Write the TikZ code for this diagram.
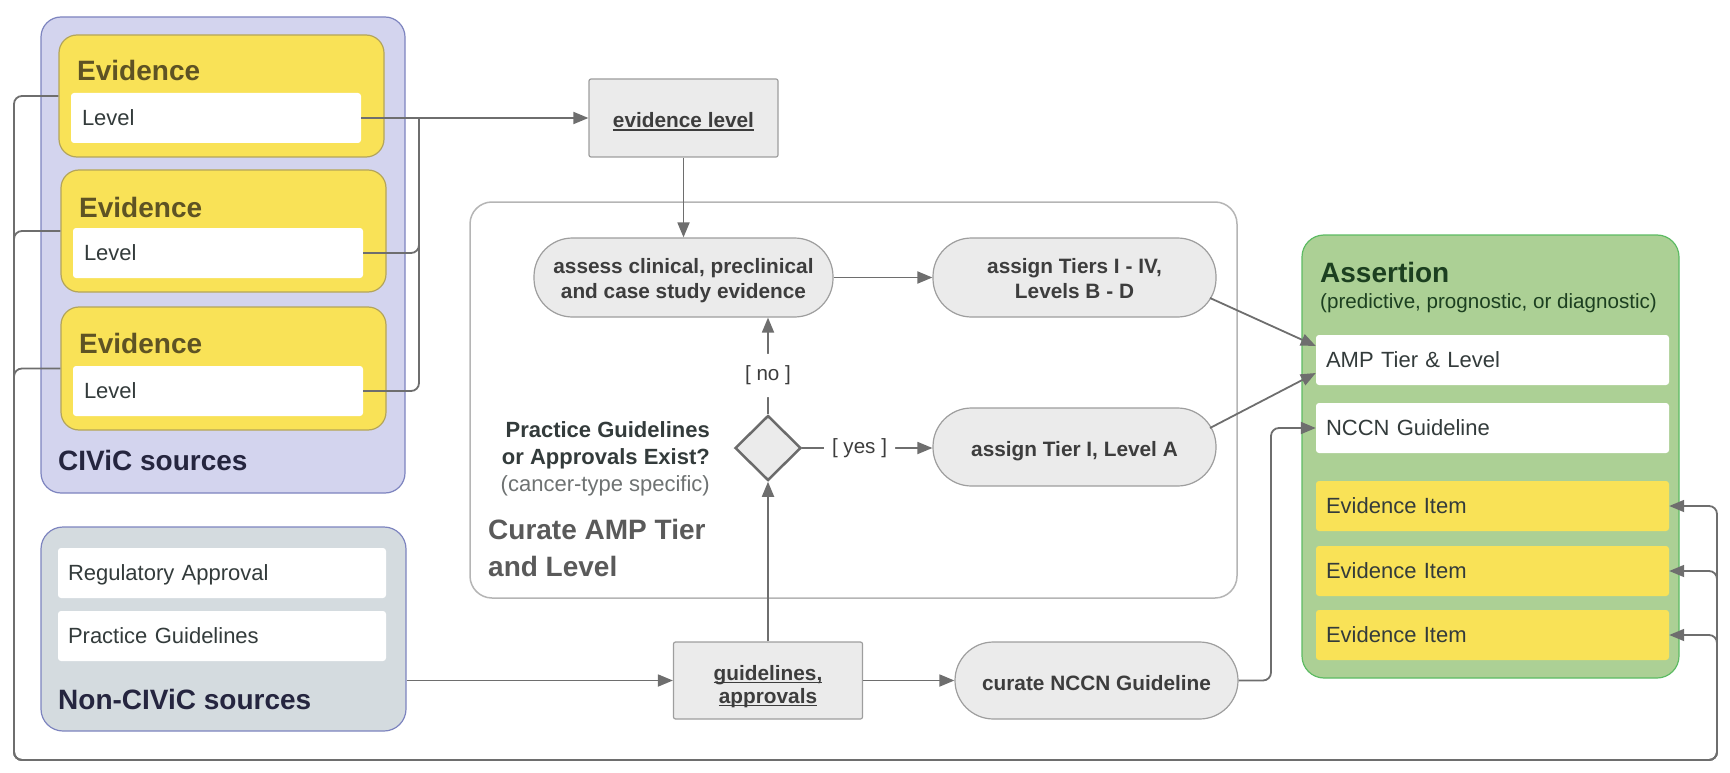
\documentclass[tikz,border=0pt]{standalone}
\usepackage{fontspec}
\setmainfont{Liberation Sans}
\usetikzlibrary{arrows.meta,shapes.geometric,calc}
\definecolor{lineC}{HTML}{6E6E6E}
\definecolor{civF}{HTML}{D3D4EE}
\definecolor{civB}{HTML}{7D84BF}
\definecolor{evF}{HTML}{F9E257}
\definecolor{evB}{HTML}{B4A55A}
\definecolor{evT}{HTML}{5E5324}
\definecolor{navyT}{HTML}{25253F}
\definecolor{nonF}{HTML}{D4DBDF}
\definecolor{procF}{HTML}{EBEBEB}
\definecolor{procB}{HTML}{9E9E9E}
\definecolor{grpB}{HTML}{B5B5B5}
\definecolor{grnF}{HTML}{ACD095}
\definecolor{grnB}{HTML}{5DBB63}
\definecolor{grnT}{HTML}{1C3F20}
\definecolor{itemT}{HTML}{333B3B}
\definecolor{procT}{HTML}{3D3D3D}
\definecolor{curT}{HTML}{5A5A5A}
\definecolor{subT}{HTML}{6E7272}
\definecolor{diaB}{HTML}{6B6B6B}
\newcommand\fHead{\fontsize{28}{32}\selectfont\bfseries}
\newcommand\fItem{\fontsize{22}{26}\selectfont}
\newcommand\fProc{\fontsize{20.8}{25}\selectfont\bfseries}
\newcommand\fProcB{\fontsize{20.8}{23}\selectfont\bfseries}
\newcommand\fLab{\fontsize{20.6}{24}\selectfont}
\newcommand\fQ{\fontsize{22}{27}\selectfont\bfseries}
\newcommand\fQs{\fontsize{22}{27}\selectfont}
\newcommand\ulx[1]{\setbox0\hbox{#1}\rlap{\rule[-2.8pt]{\wd0}{1.3pt}}\box0}
\newcommand\sTop[1]{\rule{0pt}{#1}}
\newcommand\sBot{\rule[-4.5pt]{0pt}{4.5pt}}
\begin{document}
\begin{tikzpicture}[x=1pt,y=-1pt,
  civbox/.style={draw=civB, fill=civF, line width=1.2pt, rounded corners=20pt},
  nonbox/.style={draw=civB, fill=nonF, line width=1.2pt, rounded corners=22pt},
  evbox/.style={draw=evB, fill=evF, line width=1.2pt, rounded corners=18pt},
  grnbox/.style={draw=grnB, fill=grnF, line width=1.2pt, rounded corners=22pt},
  grpbox/.style={draw=grpB, fill=white, line width=1.5pt, rounded corners=22pt},
  wbox/.style={fill=white, rounded corners=3pt, minimum height=50pt, inner xsep=11pt, inner ysep=0pt,
    align=left, font=\fItem, text=itemT, text height=15.75pt, text depth=0pt},
  ibox/.style={wbox, fill=evF, inner xsep=10pt},
  proc/.style={draw=procB, fill=procF, line width=1.2pt, rounded corners=2pt, font=\fProc, text=procT, align=center},
  pill/.style={draw=procB, fill=procF, line width=1.2pt, rounded corners=38.5pt, font=\fProc, text=procT, align=center},
  oneline/.style={text height=19.5pt, text depth=0pt},
  headT/.style={anchor=base west, inner sep=0pt, font=\fHead},
  qT/.style={anchor=base east, inner sep=0pt, font=\fQ, text=itemT},
  conn/.style={draw=lineC, line width=1.8pt, rounded corners=8pt, -{Triangle[length=15pt,width=12pt]}},
  plainln/.style={draw=lineC, line width=1.8pt, rounded corners=8pt},
  nolab/.style={fill=white, font=\fLab, text=procT, inner xsep=4pt, inner ysep=12pt},
  yeslab/.style={fill=white, font=\fLab, text=procT, inner xsep=8pt, inner ysep=4pt}
]
\useasboundingbox (0,0) rectangle (1730,773);

% group box
\node[grpbox, minimum width=767pt, minimum height=396pt] (grp) at (853.5,400) {};
\node[anchor=base west, inner sep=0pt, font=\fHead, text=curT] (cur1) at (488,539) {Curate AMP Tier};
\node[anchor=base west, inner sep=0pt, font=\fHead, text=curT] (cur2) at (488,576) {and Level};

% CIViC sources
\node[civbox, minimum width=364pt, minimum height=476pt] (civic) at (223,255) {};
\node[evbox, minimum width=325pt, minimum height=122pt] (ev1) at (221.5,96) {};
\node[evbox, minimum width=325pt, minimum height=122pt] (ev2) at (223.5,231) {};
\node[evbox, minimum width=325pt, minimum height=123pt] (ev3) at (223.5,368.5) {};
\node[headT, text=evT] (ev1t) at (77,81) {Evidence};
\node[headT, text=evT] (ev2t) at (79,217) {Evidence};
\node[headT, text=evT] (ev3t) at (79,353) {Evidence};
\node[wbox, text width=268pt] (lv1) at (216,118) {Level};
\node[wbox, text width=268pt] (lv2) at (218,253) {Level};
\node[wbox, text width=268pt] (lv3) at (218,391) {Level};
\node[headT, text=navyT] (civt) at (58,470) {CIViC sources};

% Non-CIViC sources
\node[nonbox, minimum width=365pt, minimum height=204pt] (nonc) at (223.5,629) {};
\node[wbox, inner xsep=10pt, text width=308pt] (reg) at (222,573) {Regulatory Approval};
\node[wbox, inner xsep=10pt, text width=308pt] (prac) at (222,636) {Practice Guidelines};
\node[headT, text=navyT] (nont) at (58,709) {Non-CIViC sources};

% Assertion
\node[grnbox, minimum width=377pt, minimum height=443pt] (asr) at (1490.5,456.5) {};
\node[headT, text=grnT] (asrt) at (1320,282) {Assertion};
\node[anchor=base west, inner sep=0pt, font=\fLab, text=grnT] (asrs) at (1320,308) {(predictive, prognostic, or diagnostic)};
\node[wbox, inner xsep=10pt, text width=333pt] (amp) at (1492.5,360) {AMP Tier \& Level};
\node[wbox, inner xsep=10pt, text width=333pt] (nccnb) at (1492.5,428) {NCCN Guideline};
\node[ibox, text width=333pt] (ei1) at (1492.5,506) {Evidence Item};
\node[ibox, text width=333pt] (ei2) at (1492.5,571) {Evidence Item};
\node[ibox, text width=333pt] (ei3) at (1492.5,635) {Evidence Item};

% process nodes
\node[proc, oneline, minimum width=189pt, minimum height=78pt] (evl) at (683.5,118) {\ulx{evidence level}};
\node[pill, minimum width=299pt, minimum height=79pt] (assess) at (683.5,277.5) {\sTop{21.5pt}assess clinical, preclinical\\and case study evidence\sBot};
\node[pill, minimum width=283pt, minimum height=79pt] (tiers) at (1074.5,277.5) {\sTop{21.5pt}assign Tiers I - IV,\\Levels B - D\sBot};
\node[pill, oneline, minimum width=283pt, minimum height=78pt] (tier1) at (1074.5,447) {assign Tier I, Level A};
\node[diamond, draw=diaB, fill=procF, line width=2.5pt, minimum width=66pt, minimum height=65pt, inner sep=0pt] (dia) at (768,448) {};
\node[qT] (pg1) at (710,437) {Practice Guidelines};
\node[qT] (pg2) at (710,464) {or Approvals Exist?};
\node[qT, font=\fQs, text=subT] (pg3) at (710,491) {(cancer-type specific)};
\node[proc, font=\fProcB, minimum width=189pt, minimum height=77pt] (gl) at (768,680.5) {\sTop{26.5pt}\ulx{guidelines,}\\\ulx{approvals}\sBot};
\node[pill, oneline, minimum width=283pt, minimum height=77pt] (nccn) at (1096.5,680.5) {curate NCCN Guideline};

% connectors
\coordinate (jL) at (419,118);
\coordinate (bl) at (14,760);
\coordinate (br) at (1717,760);
\coordinate (jN) at (1271,428);
\draw[conn] (lv1.east) -- (evl.west);
\draw[plainln] (lv2.east) -- (jL |- lv2.east) -- (jL);
\draw[plainln] (lv3.east) -- (jL |- lv3.east) -- (jL);
\draw[conn] (ev1.west) -- (bl |- ev1.west) -- (bl) -- (br) -- (br |- ei1.east) -- (ei1.east);
\draw[conn] (ev2.west) -- (bl |- ev2.west) -- (bl) -- (br) -- (br |- ei2.east) -- (ei2.east);
\draw[conn] (ev3.west) -- (bl |- ev3.west) -- (bl) -- (br) -- (br |- ei3.east) -- (ei3.east);
\draw[conn] (evl.south) -- (assess.north);
\draw[conn] (assess.east) -- (tiers.west);
\draw[conn] (dia.north) -- node[nolab, pos=0.4] {[ no ]} (dia.north |- assess.south);
\draw[conn] (dia.east) -- node[yeslab, pos=0.44] {[ yes ]} (dia.east -| tier1.west);
\draw[conn] (gl.north) -- (dia.south);
\draw[conn] (gl.west -| nonc.east) -- (gl.west);
\draw[conn] (gl.east) -- (nccn.west);
\draw[conn] (nccn.east) -- (jN |- nccn.east) -- (jN |- nccnb.west) -- (nccnb.west);
\draw[conn] ($(tiers.center)+(135.5,20.5)$) -- ($(amp.west)+(0,-14)$);
\draw[conn] ($(tier1.center)+(135.5,-19)$) -- ($(amp.west)+(0,13)$);
\end{tikzpicture}
\end{document}
